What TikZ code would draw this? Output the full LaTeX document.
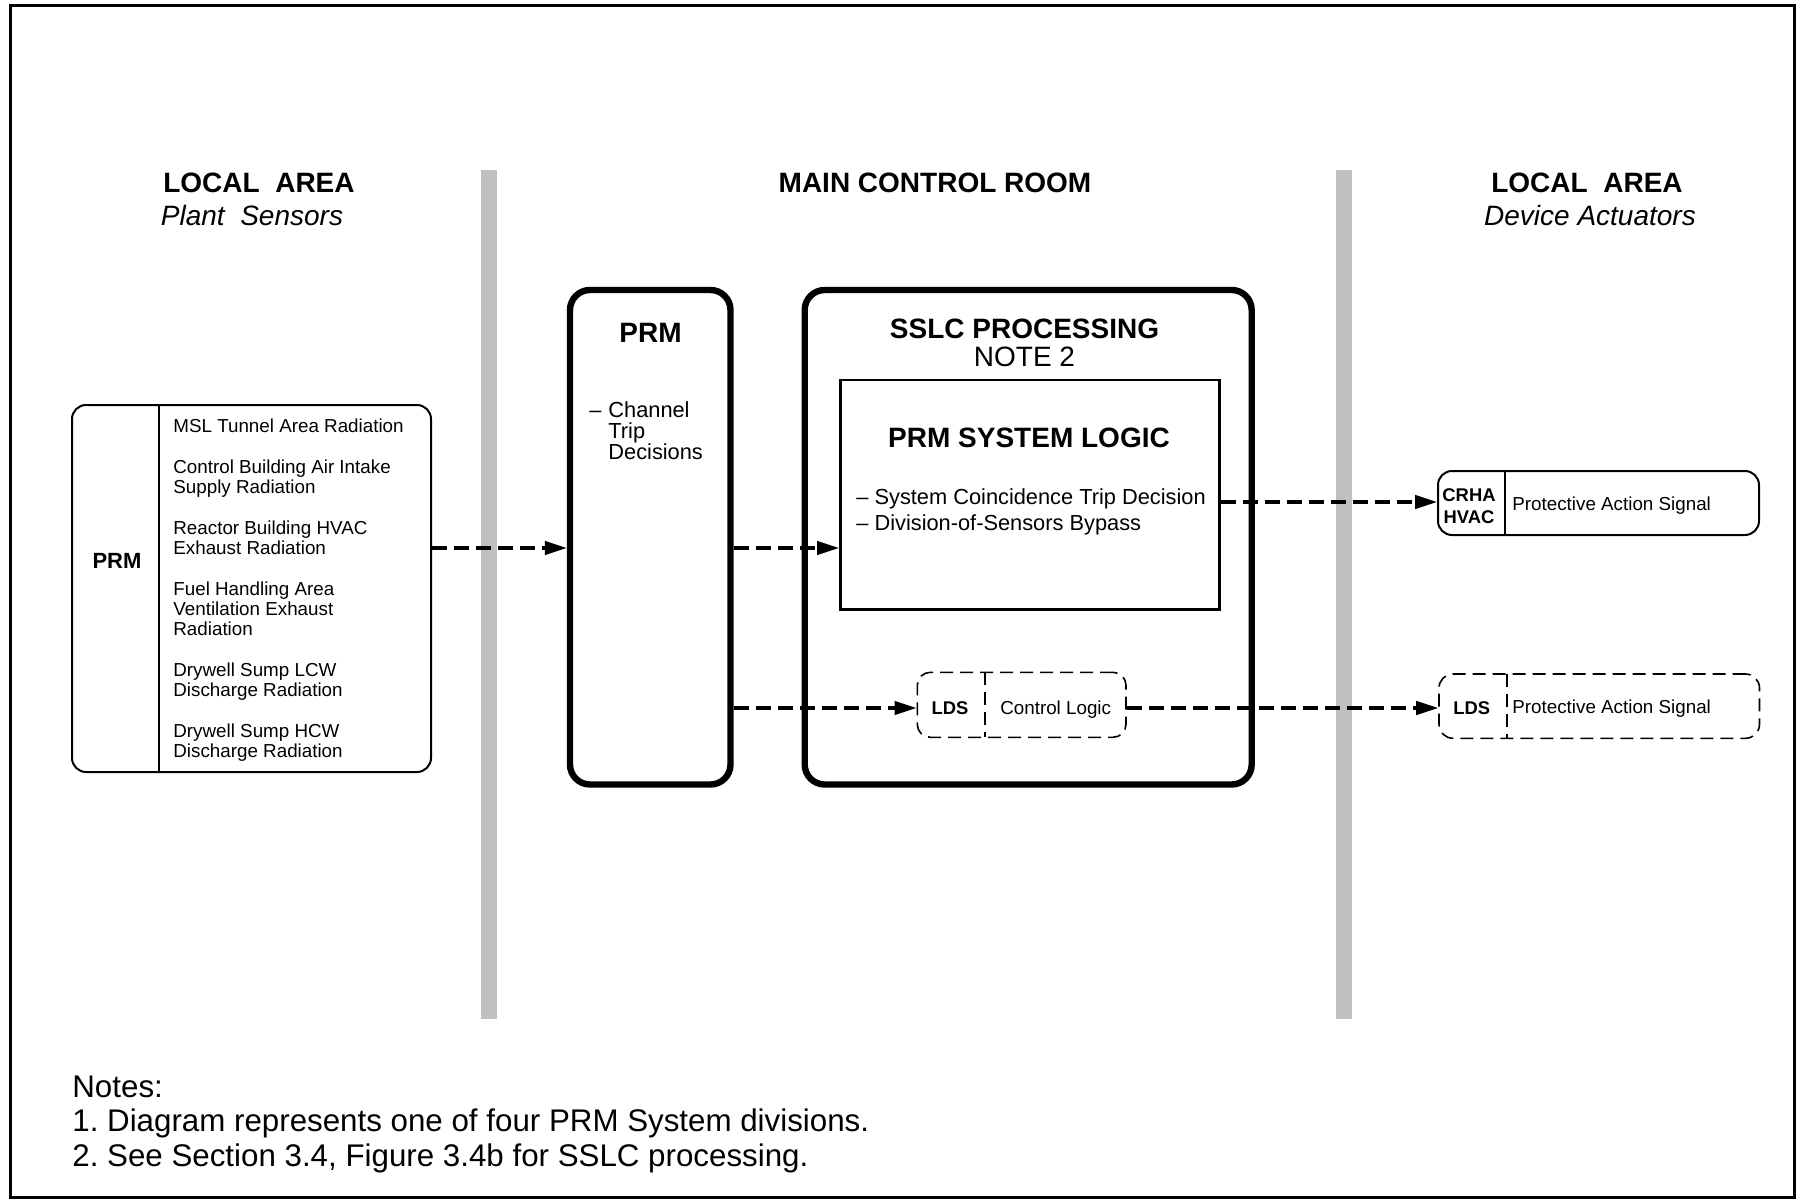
\documentclass[tikz,border=0pt]{standalone}
\usepackage{fontspec}
\setmainfont{Liberation Sans}
\frenchspacing
\usetikzlibrary{arrows.meta,fit,positioning}
\definecolor{bargray}{RGB}{192,192,192}
\tikzset{
	bigbox/.style={draw,line width=3.2pt,rounded corners=10pt,inner sep=0pt},
	thinbox/.style={draw,line width=1pt,rounded corners=7pt,inner sep=0pt},
	dashbox/.style={thinbox,line width=.8pt,dash pattern=on 6.5pt off 3.5pt},
	dashdiv/.style={line width=.8pt,dash pattern=on 6.5pt off 3.5pt},
	sig/.style={line width=1.6pt,dash pattern=on 7.5pt off 3.5pt,-{Triangle[length=11pt,width=6.7pt]}},
	hd/.style={inner sep=0pt,anchor=base,font=\fontsize{14}{16}\selectfont\bfseries},
	hdit/.style={inner sep=0pt,anchor=base,font=\fontsize{14}{16}\selectfont\itshape},
	hdn/.style={inner sep=0pt,anchor=base,font=\fontsize{14}{16}\selectfont},
	sub/.style={inner sep=0pt,anchor=base west,align=left,font=\fontsize{10.9}{10.5}\selectfont},
	small/.style={inner sep=0pt,anchor=base west,font=\fontsize{9.4}{10}\selectfont},
	tag/.style={inner sep=0pt,anchor=base,align=center,font=\fontsize{9.2}{11}\selectfont\bfseries},
}
\begin{document}
\begin{tikzpicture}[x=.5pt,y=-.5pt]
	\useasboundingbox (0,0) rectangle (1796,1199);
	\draw[line width=1.5pt] (10,5) rectangle (1794,1197);
	\foreach \x in {489,1344} \fill[bargray] (\x-8,170) rectangle (\x+8,1019);
	\node[hd] (locL) at (259,192) {LOCAL\ \ AREA};
	\node[hdit] (plant) at (252,225) {Plant\ \ Sensors};
	\node[hd] (mcr) at (935,192) {MAIN CONTROL ROOM};
	\node[hd] (locR) at (1587,192) {LOCAL\ \ AREA};
	\node[hdit] (device) at (1590,225) {Device Actuators};
	\node[thinbox,fit={(72,405)(431,772)}] (sensors) {};
	\draw[line width=1pt] (159,405) -- (159,772);
	\node[tag,font=\fontsize{11}{12}\selectfont\bfseries] (sensPRM) at (117,568) {PRM};
	\node[small,align=left] (sensList) at (173,757) {MSL Tunnel Area Radiation\\[10.5pt]
		Control Building Air Intake\\Supply Radiation\\[10.5pt]
		Reactor Building HVAC\\Exhaust Radiation\\[10.5pt]
		Fuel Handling Area\\Ventilation Exhaust\\Radiation\\[10.5pt]
		Drywell Sump LCW\\Discharge Radiation\\[10.5pt]
		Drywell Sump HCW\\Discharge Radiation};
	\node[bigbox,fit={(570,290)(730.5,784.5)}] (prm) {};
	\node[hd] (prmT) at (650.5,342) {PRM};
	\node[sub] (chanDash) at (589,417) {--};
	\node[sub] (chan) at (608,459) {Channel\\Trip\\Decisions};
	\node[bigbox,fit={(804.7,290)(1251.7,784.5)}] (sslc) {};
	\node[hd] (sslcT) at (1024.5,338) {SSLC PROCESSING};
	\node[hdn] (note2) at (1024.5,366) {NOTE 2};
	\node[draw,line width=1.4pt,inner sep=0pt,fit={(840.5,380)(1219.3,609.3)}] (logic) {};
	\node[hd] (logicT) at (1029,447) {PRM SYSTEM LOGIC};
	\node[sub,font=\fontsize{10.9}{13}\selectfont] (logicList) at (856,530) {-- System Coincidence Trip Decision\\-- Division-of-Sensors Bypass};
	\node[dashbox,rounded corners=6.5pt,fit={(917.3,672.3)(1126,737.3)}] (lds) {};
	\draw[dashdiv] (985,672.3) -- (985,737.3);
	\node[tag] (ldsT) at (950,714) {LDS};
	\node[small,anchor=base] (ctrl) at (1055.7,714) {Control Logic};
	\node[thinbox,fit={(1438,471)(1759,535)}] (crha) {};
	\draw[line width=1pt] (1505,471) -- (1505,535);
	\node[tag] (crhaT) at (1469,523.5) {CRHA\\HVAC};
	\node[small] (pasA) at (1512,510) {Protective Action Signal};
	\node[dashbox,fit={(1439,674)(1759.5,738.3)}] (ldsR) {};
	\draw[dashdiv] (1506.7,674) -- (1506.7,738.3);
	\node[tag] (ldsRT) at (1471.8,714) {LDS};
	\node[small] (pasB) at (1512,713) {Protective Action Signal};
	\draw[sig] (sensors.east |- 0,548) -- (prm.west |- 0,548);
	\draw[sig] (prm.east |- 0,548) -- (logic.west |- 0,548);
	\draw[sig] (prm.east |- 0,708) -- (lds.west |- 0,708);
	\draw[sig] (logic.east |- 0,502) -- (crha.west |- 0,502);
	\draw[sig] (lds.east |- 0,708) -- (ldsR.west |- 0,708);
	\node[anchor=base west,inner sep=0pt,align=left,font=\fontsize{15.65}{17.2}\selectfont] (notes) at (72,1166) {Notes:\\1. Diagram represents one of four PRM System divisions.\\2. See Section 3.4, Figure 3.4b for SSLC processing.};
\end{tikzpicture}
\end{document}
